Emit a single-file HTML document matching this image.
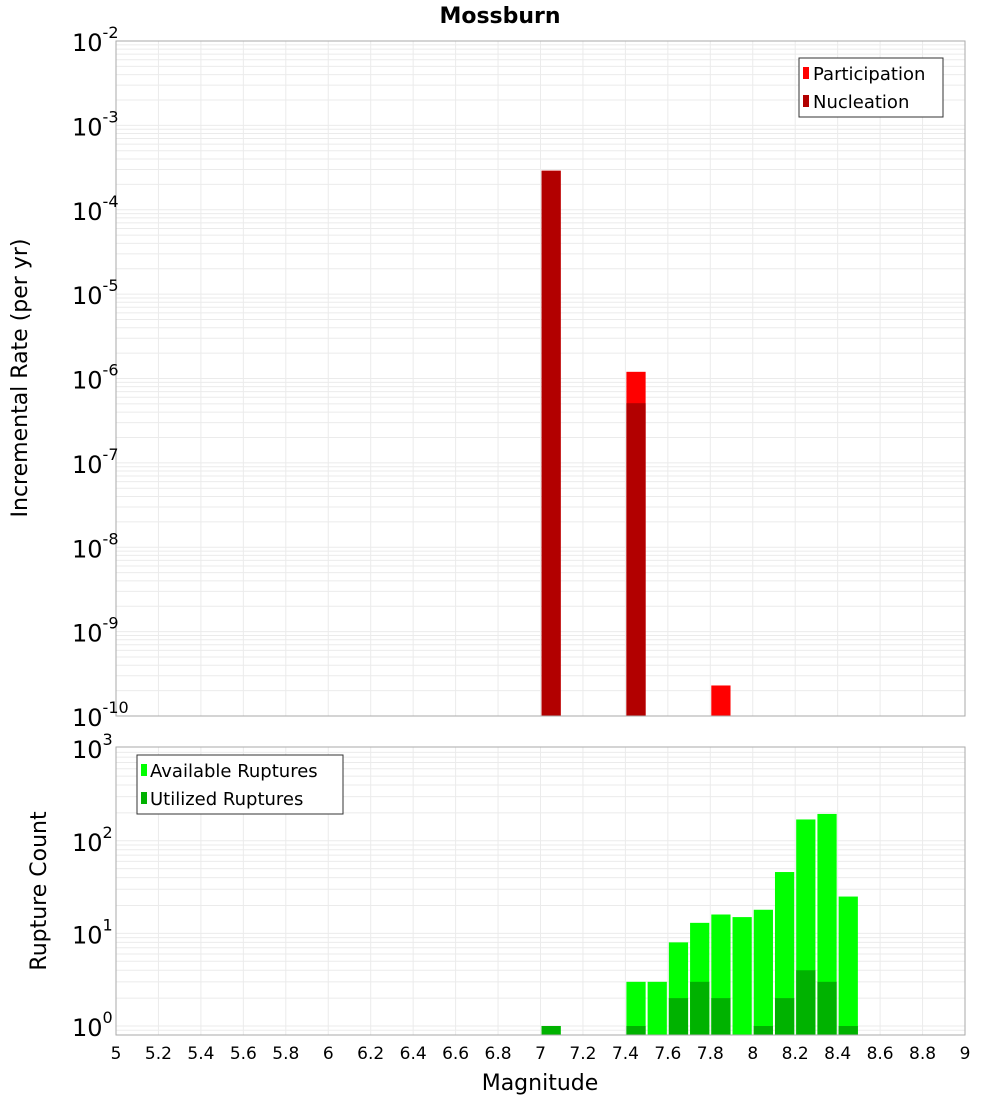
<!DOCTYPE html>
<html><head><meta charset="utf-8"><style>
body{margin:0;background:#fff;font-family:"Liberation Sans","DejaVu Sans",sans-serif}
svg text{font-family:"DejaVu Sans","Liberation Sans",sans-serif}
</style></head><body>
<svg id="chart" width="1000" height="1100" xmlns="http://www.w3.org/2000/svg">
<rect width="1000" height="1100" fill="#fff"/>
<text x="500" y="23" text-anchor="middle" font-size="22" font-weight="bold">Mossburn</text>
<g id="top"></g><g id="bot"></g>
<text transform="translate(27,378) rotate(-90)" text-anchor="middle" font-size="22">Incremental Rate (per yr)</text>
<text transform="translate(46,891) rotate(-90)" text-anchor="middle" font-size="22">Rupture Count</text>
<text x="540" y="1090" text-anchor="middle" font-size="22">Magnitude</text>
<g>
<rect x="799" y="58" width="144" height="59" fill="#fff" stroke="#333" stroke-width="1"/>
<rect x="803" y="67" width="6" height="12" fill="#ff0000"/>
<text x="813" y="80" font-size="18">Participation</text>
<rect x="803" y="95" width="6" height="12" fill="#b20000"/>
<text x="813" y="108" font-size="18">Nucleation</text>
</g>
<g>
<rect x="137" y="755" width="206" height="59" fill="#fff" stroke="#333" stroke-width="1"/>
<rect x="141" y="764" width="6" height="12" fill="#00ff00"/>
<text x="150" y="777" font-size="18">Available Ruptures</text>
<rect x="141" y="792" width="6" height="12" fill="#00b200"/>
<text x="150" y="805" font-size="18">Utilized Ruptures</text>
</g>
</svg>
<script>
const topMags=[7.05,7.45,7.85];
const participation=[2.9e-4,1.2e-6,2.3e-10];
const nucleation=[2.9e-4,5.1e-7,0];
const botMags=[7.05,7.45,7.55,7.65,7.75,7.85,7.95,8.05,8.15,8.25,8.35,8.45];
const available=[1,3,3,8,13,16,15,18,46,170,195,25];
const utilized=[1,1,0,2,3,2,0,1,2,4,3,1];
const xTicks=[5,5.2,5.4,5.6,5.8,6,6.2,6.4,6.6,6.8,7,7.2,7.4,7.6,7.8,8,8.2,8.4,8.6,8.8,9];
const topExps=[-2,-3,-4,-5,-6,-7,-8,-9,-10];
const botExps=[0,1,2,3];
const NS="http://www.w3.org/2000/svg";
const X0=116,X1=965;
const xs=m=>X0+(m-5)/4*(X1-X0);
const T0=41,T1=716;
const yt=v=>T0+(-2-Math.log10(v))*(T1-T0)/8;
const B0=747,B1=1035,BD=92.6,B1y=1026;
const yb=v=>B1y-Math.log10(v)*BD;
function mk(p,tag,a,name){const e=document.createElementNS(NS,tag);for(const k in a)e.setAttribute(k,a[k]);


p.appendChild(e);return e;}
function panel(g,y0,y1,ymap,loE,hiE,name){
 mk(g,'rect',{x:X0,y:y0,width:X1-X0,height:y1-y0,fill:'#fff'},name+'-plot-area');
 for(let e=loE;e<hiE;e++)for(let k=1;k<10;k++){const v=k*Math.pow(10,e);const y=ymap(v);if(y<y0||y>y1)continue;
  mk(g,'line',{x1:X0,x2:X1,y1:y,y2:y,stroke:'#ebebeb','stroke-width':1},name+'-gridline-y');}
 xTicks.forEach(t=>{const x=xs(t);mk(g,'line',{x1:x,x2:x,y1:y0,y2:y1,stroke:'#ebebeb','stroke-width':1},name+'-gridline-x');});
}
const gt=document.getElementById('top'),gb=document.getElementById('bot');
panel(gt,T0,T1,yt,-10,-2,'top');
panel(gb,B0,B1,yb,-1,3,'bottom');
const bw=(X1-X0)/40;
topMags.forEach((m,i)=>{const x=xs(m)-bw/2+1;
 if(participation[i]>0){const y=yt(participation[i]);mk(gt,'rect',{x:x,y:y,width:bw-2,height:T1-y,fill:'#ff0000'},'participation-bar');}
 if(nucleation[i]>0){const y=yt(nucleation[i]);mk(gt,'rect',{x:x,y:y,width:bw-2,height:T1-y,fill:'#b20000'},'nucleation-bar');}
});
botMags.forEach((m,i)=>{const x=xs(m)-bw/2+1;
 if(available[i]>0){const y=yb(available[i]);mk(gb,'rect',{x:x,y:y,width:bw-2,height:B1-y,fill:'#00ff00'},'available-bar');}
 if(utilized[i]>0){const y=yb(utilized[i]);mk(gb,'rect',{x:x,y:y,width:bw-2,height:B1-y,fill:'#00b200'},'utilized-bar');}
});
mk(gt,'rect',{x:X0,y:T0,width:X1-X0,height:T1-T0,fill:'none',stroke:'#aaa'},'top-frame');
mk(gb,'rect',{x:X0,y:B0,width:X1-X0,height:B1-B0,fill:'none',stroke:'#aaa'},'bottom-frame');
function ylab(g,y,e,name){const t=mk(g,'text',{x:108,y:y+10,'text-anchor':'end','font-size':24},name);
 const a=document.createElementNS(NS,'tspan');a.textContent='10';t.appendChild(a);
 const b=document.createElementNS(NS,'tspan');b.setAttribute('dy','-13');b.setAttribute('font-size','16');b.textContent=e;t.appendChild(b);
 t.setAttribute('text-anchor','start');t.setAttribute('x',72);}
topExps.forEach(e=>ylab(gt,yt(Math.pow(10,e)),String(e),'y-tick-label-top'));
botExps.forEach(e=>ylab(gb,yb(Math.pow(10,e)),String(e),'y-tick-label-bottom'));
xTicks.forEach(t=>{const el=mk(gb,'text',{x:xs(t),y:1059,'text-anchor':'middle','font-size':17},'x-tick-label');el.textContent=String(t);});
</script>
</body></html>
